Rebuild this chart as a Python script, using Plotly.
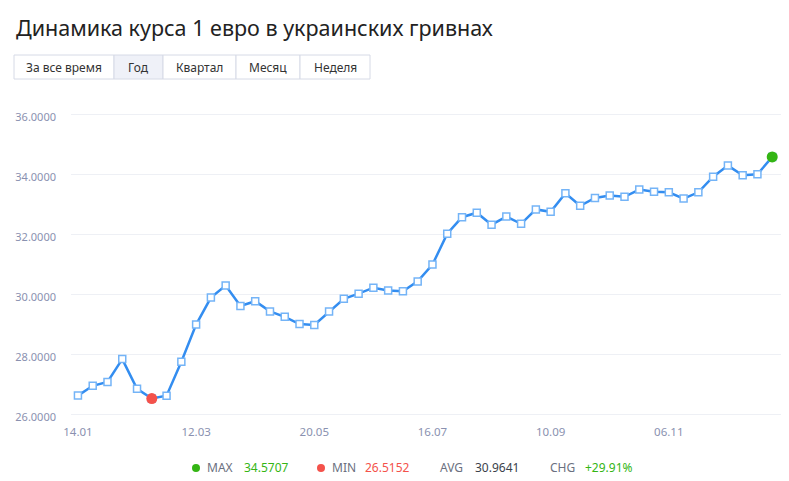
import plotly.graph_objects as go

# EUR -> UAH, weekly points over the year
title = "Динамика курса 1 евро в украинских гривнах"
periods = ["За все время", "Год", "Квартал", "Месяц", "Неделя"]
active_period = "Год"

rates = [
    26.6125, 26.94, 27.07, 27.83, 26.84, 26.5152, 26.61, 27.74,
    28.98, 29.88, 30.28, 29.60, 29.76, 29.42, 29.24, 29.00,
    28.97, 29.42, 29.84, 30.01, 30.21, 30.12, 30.09, 30.42,
    30.98, 32.01, 32.56, 32.71, 32.31, 32.58, 32.34, 32.82,
    32.74, 33.36, 32.94, 33.20, 33.28, 33.24, 33.48, 33.41,
    33.39, 33.18, 33.39, 33.91, 34.28, 33.96, 33.99, 34.5707,
]
tick_labels = ["14.01", "12.03", "20.05", "16.07", "10.09", "06.11"]
y_ticks = [26, 28, 30, 32, 34, 36]

stat_names = ["MAX", "MIN", "AVG", "CHG"]
stat_values = ["34.5707", "26.5152", "30.9641", "+29.91%"]

# colours
BLUE = "#338df0"
GREEN = "#34b514"
RED = "#f4524b"
GRAY = "#8a91b0"
DARK = "#3a3f4b"

# the page has an 8px body margin, so the figure starts at (8, 8)
OFF = 8
W, H = 789 - OFF, 481 - OFF
# plot area in window pixels
PL, PR, PT, PB = 71, 783, 108, 420
L, R, T, B = PL - OFF, W - (PR - OFF), PT - OFF, H - (PB - OFF)


def px(x):
    return (x - PL) / (PR - PL)


def py(y):
    return (PB - y) / (PB - PT)


x = list(range(len(rates)))
i_max = max(x, key=lambda i: rates[i])
i_min = min(x, key=lambda i: rates[i])

fig = go.Figure()
fig.add_trace(go.Scatter(
    x=x, y=rates, mode="lines+markers",
    line=dict(color=BLUE, width=2.5),
    marker=dict(symbol="square", size=7, color="white",
                line=dict(color="#74b4f7", width=1.5)),
    hoverinfo="y",
))
fig.add_trace(go.Scatter(
    x=[x[i_min]], y=[rates[i_min]], mode="markers",
    marker=dict(size=11, color=RED), hoverinfo="y",
))
fig.add_trace(go.Scatter(
    x=[x[i_max]], y=[rates[i_max]], mode="markers",
    marker=dict(size=11, color=GREEN), hoverinfo="y",
))

shapes = []
annotations = []

# title
annotations.append(dict(
    x=px(14), y=py(27), xref="paper", yref="paper", xanchor="left", yanchor="middle",
    text=title, showarrow=False,
    font=dict(family="Noto Sans", size=21.5, color="#222222"),
))

# period buttons
edges = [14, 114, 163, 236, 300, 370]
for k, name in enumerate(periods):
    x0, x1 = edges[k], edges[k + 1]
    shapes.append(dict(
        type="rect", xref="paper", yref="paper",
        x0=px(x0), x1=px(x1), y0=py(79), y1=py(55),
        line=dict(color="#d6dae6", width=1),
        fillcolor="#eff1f8" if name == active_period else "white",
        layer="below",
    ))
    annotations.append(dict(
        x=px((x0 + x1) / 2), y=py(67), xref="paper", yref="paper",
        xanchor="center", yanchor="middle", text=name, showarrow=False,
        font=dict(family="Noto Sans", size=12, color="#333333"),
    ))

# footer stats
dot_x = [196, 321, None, None]
name_x = [205, 330, 438, 548]
value_x = [242, 363, 473, 583]
value_colors = [GREEN, RED, DARK, GREEN]
dot_colors = [GREEN, RED, None, None]
for k, name in enumerate(stat_names):
    if dot_x[k] is not None:
        shapes.append(dict(
            type="circle", xref="paper", yref="paper",
            x0=px(dot_x[k] - 4), x1=px(dot_x[k] + 4), y0=py(472), y1=py(464),
            fillcolor=dot_colors[k], line=dict(width=0),
        ))
    annotations.append(dict(
        x=px(name_x[k]), y=py(468), xref="paper", yref="paper",
        xanchor="left", yanchor="middle", text=name, showarrow=False,
        font=dict(family="Noto Sans", size=12, color="#6b7080"),
    ))
    annotations.append(dict(
        x=px(value_x[k]), y=py(468), xref="paper", yref="paper",
        xanchor="left", yanchor="middle", text=stat_values[k], showarrow=False,
        font=dict(family="Noto Sans", size=12, color=value_colors[k]),
    ))

fig.update_layout(
    width=W, height=H,
    margin=dict(l=L, r=R, t=T, b=B),
    plot_bgcolor="white", paper_bgcolor="white",
    showlegend=False,
    font=dict(family="Noto Sans", size=11, color=GRAY),
    shapes=shapes, annotations=annotations,
    xaxis=dict(
        range=[-0.47, 47.73],
        tickvals=x[::8], ticktext=tick_labels,
        showgrid=False, zeroline=False, showline=False,
        ticklabelstandoff=3,
        tickfont=dict(size=11.5, color=GRAY),
    ),
    yaxis=dict(
        range=[25.8, 36.2],
        tickvals=y_ticks, tickformat=".4f",
        showgrid=True, gridcolor="#eef0f5", gridwidth=1,
        zeroline=False, showline=False,
        ticklabelstandoff=14, ticklabelshift=3,
        tickfont=dict(size=11, color=GRAY),
    ),
)

fig.write_html("out.html")
